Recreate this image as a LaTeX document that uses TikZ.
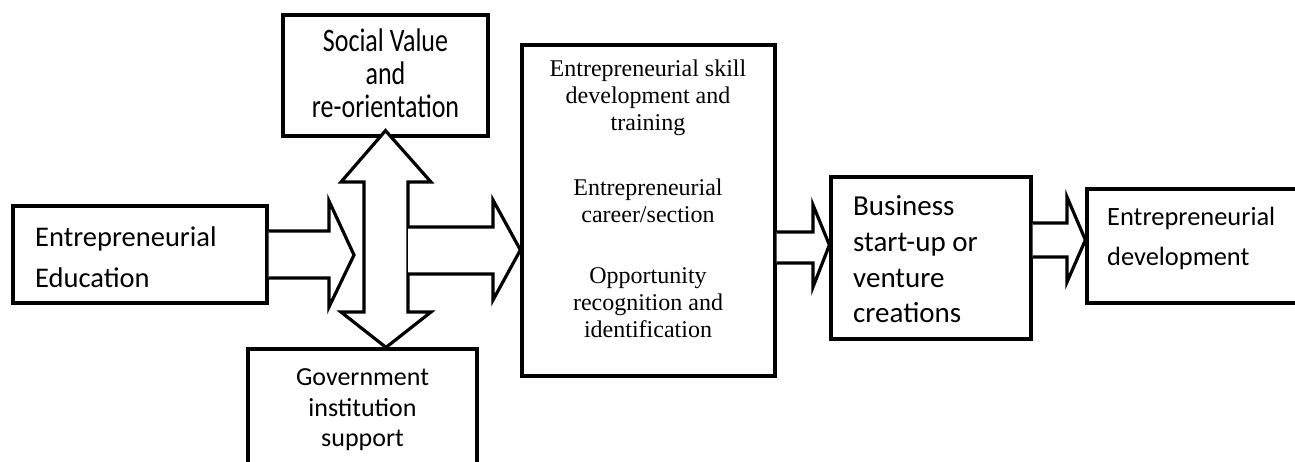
\documentclass[tikz,border=0pt]{standalone}
\usepackage{graphicx}
\usepackage{fontspec}
\setmainfont{Carlito}
\newfontfamily\tnr{Liberation Serif}
\tikzset{
  box/.style={draw=black, line width=3.2pt, fill=white, inner sep=0pt},
  barrow/.style={draw=black, line width=3.2pt, fill=white, line join=miter},
  txt/.style={inner sep=0pt, text=black},
}
\begin{document}
\begin{tikzpicture}[x=1pt, y=-1pt]
\clip (0,0) rectangle (1295,461);
\fill[white] (0,0) rectangle (1295,461);
% boxes
\node[box, minimum width=254pt, minimum height=97pt] (edu) at (140,254.5) {};
\node[box, minimum width=205pt, minimum height=121pt] (soc) at (385.5,75.5) {};
\node[box, minimum width=229pt, minimum height=151pt] (gov) at (362.5,424.5) {};
\node[box, minimum width=253pt, minimum height=331pt] (mid) at (648.5,210.5) {};
\node[box, minimum width=200pt, minimum height=162pt] (bus) at (931,258) {};
\node[box, minimum width=233pt, minimum height=114pt] (fin) at (1203.5,246) {};
% texts
\node[txt, anchor=west, align=left, font=\fontsize{28.5}{41}\selectfont] (edut) at (35,257) {Entrepreneurial\\Education};
\node[txt] (soct) at (385.5,78) {\scalebox{1}[1.26]{\fontsize{26}{25.8}\selectfont\begin{tabular}{@{}c@{}}Social Value\\and\\re-orientation\end{tabular}}};
\node[txt, align=center, font=\fontsize{26}{30.5}\selectfont] (govt) at (362.5,410) {Government\\institution\\support};
\node[txt, align=center, font=\tnr\fontsize{24}{27}\selectfont] (midt) at (648,199) {Entrepreneurial skill\\development and\\training\\[38pt]Entrepreneurial\\career/section\\[34pt]Opportunity\\recognition and\\identification};
\node[txt, anchor=west, align=left, font=\fontsize{29}{35.7}\selectfont] (bust) at (853,259.5) {Business\\start-up or\\venture\\creations};
\node[txt, anchor=west, align=left, font=\fontsize{26.4}{40}\selectfont] (fint) at (1107,238) {Entrepreneurial\\development};
% block arrows
\draw[barrow] (edu.east |- 0,231) -- (329,231) -- (329,201) -- (354,255) -- (329,307) -- (329,278) -- (edu.east |- 0,278);
\draw[barrow] (364,182) -- (341,182) -- ([yshift=7pt]soc.south) -- (431,182) -- (408,182)
  -- (408,312) -- (431,312) -- (gov.north -| 386,0) -- (341,312) -- (364,312) -- cycle;
\draw[barrow] (408,227) -- (493,227) -- (493,200) -- (mid.west |- 0,250) -- (493,300) -- (493,274) -- (408,274);
\draw[barrow] (mid.east |- 0,232) -- (813,232) -- (813,205) -- (bus.west |- 0,245) -- (813,287) -- (813,263) -- (mid.east |- 0,263);
\draw[barrow] (bus.east |- 0,223) -- (1067,223) -- (1067,197) -- (fin.west |- 0,240) -- (1067,282) -- (1067,257) -- (bus.east |- 0,257);
\end{tikzpicture}
\end{document}
